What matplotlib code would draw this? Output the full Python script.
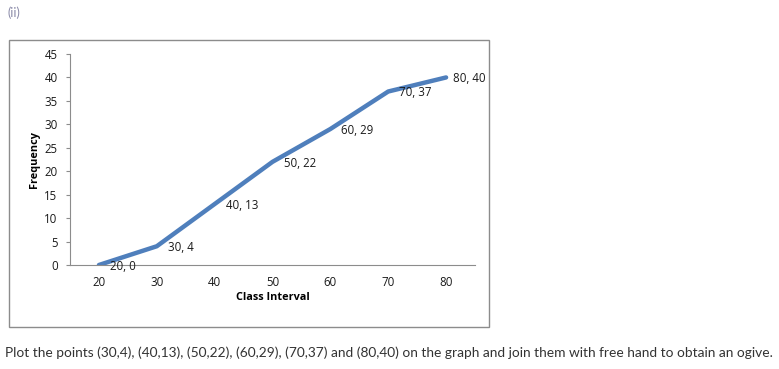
import matplotlib
matplotlib.use("Agg")
import matplotlib.pyplot as plt
from matplotlib.patches import Rectangle

# ogive data
upper_limits = [20, 30, 40, 50, 60, 70, 80]
cum_freq = [0, 4, 13, 22, 29, 37, 40]
point_labels = ["20, 0", "30, 4", "40, 13", "50, 22", "60, 29", "70, 37", "80, 40"]
y_ticks = [0, 5, 10, 15, 20, 25, 30, 35, 40, 45]

plt.rcParams['font.family'] = ['Open Sans', 'DejaVu Sans']

fig = plt.figure(figsize=(7.79, 3.69), dpi=100)
fig.patch.set_facecolor("white")

# outer chart border
fig.patches.append(Rectangle((9 / 779, 1 - 327 / 369), 480 / 779, 287 / 369,
                             transform=fig.transFigure, fill=False,
                             edgecolor="#8c8c8c", linewidth=1))

ax = fig.add_axes([70 / 779, 1 - 265 / 369, 405 / 779, 211 / 369])
ax.plot(upper_limits, cum_freq, color="#4F7FBC", linewidth=3.2,
        solid_capstyle="round", solid_joinstyle="round")

for i, (x, y, lab) in enumerate(zip(upper_limits, cum_freq, point_labels)):
    dx = 5 if i == len(point_labels) - 1 else 8
    ax.annotate(lab, (x, y), xytext=(dx, -1),
                textcoords="offset points", ha="left", va="center",
                fontsize=8.3, color="#1a1a1a")

ax.set_xlim(15, 85)
ax.set_ylim(0, 45)
ax.set_xticks(upper_limits)
ax.set_yticks(y_ticks)
ax.tick_params(axis="x", length=0, labelsize=8.3, pad=8, colors="#1a1a1a")
ax.tick_params(axis="y", length=3, labelsize=8.3, pad=6, colors="#1a1a1a")
for side in ("top", "right"):
    ax.spines[side].set_visible(False)
for side in ("left", "bottom"):
    ax.spines[side].set_color("#8c8c8c")
ax.tick_params(axis="y", color="#8c8c8c")

ax.set_xlabel("Class Interval", fontsize=7.8, fontweight="bold", labelpad=2)
ax.set_ylabel("Frequency", fontsize=7.8, fontweight="bold", labelpad=3)

fig.text(7 / 779, 1 - 13 / 369, "(ii)", fontsize=9, color="#8a8aa8",
         va="center", ha="left", family=['Lato', 'DejaVu Sans'])
fig.text(5 / 779, 1 - 353 / 369,
         "Plot the points (30,4), (40,13), (50,22), (60,29), (70,37) and (80,40) "
         "on the graph and join them with free hand to obtain an ogive.",
         fontsize=9.9, color="#333333", va="center", ha="left",
         family=['Lato', 'DejaVu Sans'])

fig.savefig("out.png", dpi=100)
